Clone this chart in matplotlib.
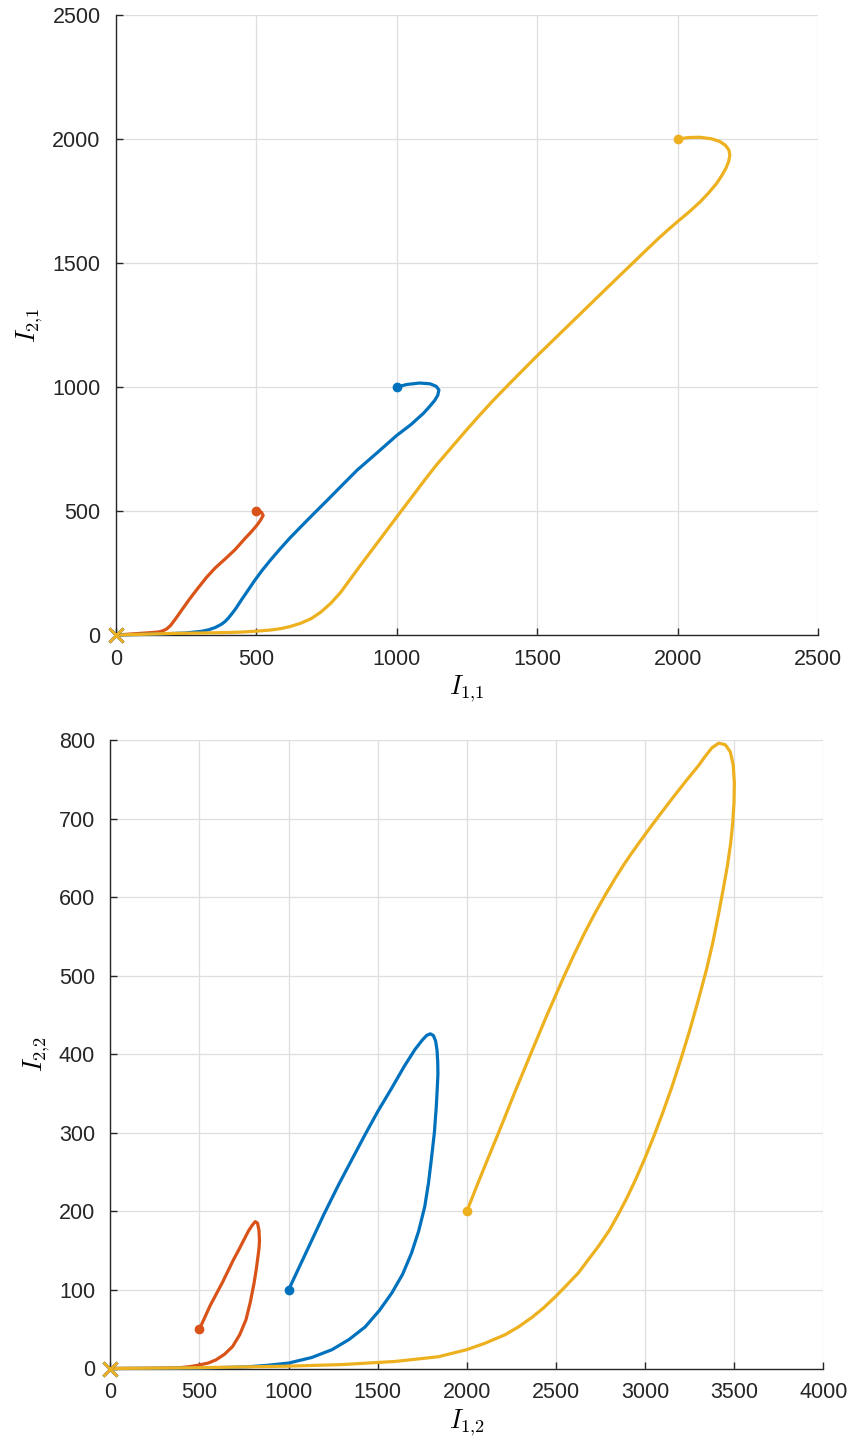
import matplotlib
matplotlib.use("Agg")
import matplotlib.pyplot as plt

# MATLAB default line colours
blue = '#0072BD'
red = '#D95319'
yellow = '#EDB120'

# top panel: I_{1,1} vs I_{2,1}
red1_x = [500, 518, 524, 514, 500, 480, 460, 423, 390, 353, 322, 294, 262, 235, 212, 194, 180, 165, 150,
          129, 80, 0]
red1_y = [500, 495, 482, 462, 440, 414, 390, 343, 308, 270, 232, 192, 145, 102, 65, 38, 24, 16, 12,
          10, 6, 0]

blue1_x = [1000, 1035, 1080, 1118, 1140, 1150, 1146, 1135, 1115, 1094, 1050, 1000, 930, 859, 800, 753,
           705, 657, 620, 585, 550, 520, 494, 470, 447, 425, 410, 400, 388, 375, 353, 330, 306, 247,
           150, 0]
blue1_y = [1000, 1010, 1016, 1013, 1003, 988, 967, 946, 919, 893, 848, 805, 735, 665, 598, 544,
           490, 435, 392, 348, 302, 260, 220, 180, 142, 104, 82, 68, 54, 43, 30, 21, 15, 8,
           4, 0]

yellow1_x = [2000, 2040, 2079, 2120, 2150, 2170, 2183, 2186, 2182, 2172, 2157, 2139, 2110, 2079, 2040,
             2000, 1965, 1929, 1880, 1847, 1780, 1700, 1600, 1500, 1400, 1340, 1290, 1240, 1190, 1140,
             1100, 1060, 1020, 1000, 970, 941, 905, 870, 835, 800, 765, 729, 695, 659, 620, 588, 550,
             506, 450, 400, 300, 188, 100, 0]
yellow1_y = [2000, 2006, 2007, 2001, 1990, 1975, 1955, 1935, 1910, 1882, 1852, 1821, 1782, 1745, 1705,
             1667, 1633, 1596, 1543, 1507, 1434, 1346, 1236, 1126, 1012, 942, 880, 816, 750, 684,
             626, 566, 506, 476, 431, 387, 333, 280, 226, 172, 128, 92, 66, 48, 34, 26, 20,
             16, 12, 10, 8, 6, 3, 0]

# bottom panel: I_{1,2} vs I_{2,2}
red2_x = [500, 530, 560, 595, 630, 660, 690, 723, 750, 775, 795, 813, 826, 834, 837, 835, 831, 820, 806,
          785, 761, 726, 686, 640, 593, 550, 500, 450, 389, 250, 0]
red2_y = [50, 65, 80, 95, 110, 124, 138, 152, 164, 175, 182, 187, 185, 176, 163, 155, 147, 128, 108,
          84, 62, 43, 28, 18, 11, 7, 4.5, 2.5, 1, 0.3, 0]

blue2_x = [1000, 1066, 1132, 1200, 1281, 1360, 1430, 1500, 1579, 1650, 1709, 1750, 1775, 1795, 1812,
           1825, 1833, 1837, 1838, 1835, 1829, 1818, 1801, 1785, 1764, 1730, 1690, 1640, 1579, 1510,
           1430, 1340, 1244, 1130, 1002, 880, 760, 500, 0]
blue2_y = [100, 132, 164, 197, 234, 268, 298, 327, 357, 385, 406, 418, 424, 426, 424,
           417, 405, 390, 375, 360, 334, 300, 266, 236, 206, 175, 147, 120, 96, 74,
           53, 37, 24, 14, 7, 4, 2, 0.5, 0]

yellow2_x = [2000, 2033, 2066, 2120, 2178, 2270, 2365, 2450, 2543, 2600, 2660, 2720, 2780, 2830, 2880,
             2925, 2969, 3040, 3100, 3154, 3230, 3302, 3340, 3375, 3413, 3450, 3478, 3495, 3501, 3499,
             3492, 3480, 3462, 3440, 3412, 3380, 3345, 3300, 3250, 3200, 3150, 3100, 3050, 3000, 2946,
             2900, 2852, 2800, 2740, 2680, 2627, 2560, 2500, 2430, 2365, 2290, 2215, 2100, 2000, 1841,
             1600, 1300, 1000, 500, 0]
yellow2_y = [200, 219, 238, 268, 300, 352, 404, 450, 498, 526, 554, 580, 604, 623, 641,
             656, 670, 692, 710, 726, 748, 768, 780, 790, 796, 794, 785, 768, 745, 720,
             695, 668, 640, 612, 578, 542, 508, 470, 430, 393, 358, 326, 296, 268, 240,
             218, 197, 176, 156, 138, 122, 106, 92, 77, 65, 53, 43, 32, 24, 15,
             9, 5, 3, 1, 0]

top_ticks = [0, 500, 1000, 1500, 2000, 2500]
bottom_xticks = [0, 500, 1000, 1500, 2000, 2500, 3000, 3500, 4000]
bottom_yticks = [0, 100, 200, 300, 400, 500, 600, 700, 800]

plt.rcParams['font.family'] = ['Liberation Sans', 'DejaVu Sans']
plt.rcParams['mathtext.fontset'] = 'cm'

fig = plt.figure(figsize=(8.55, 14.5), dpi=100)
ax1 = fig.add_axes([116 / 855, 1 - 635 / 1450, 702 / 855, 620 / 1450])
ax2 = fig.add_axes([110.3 / 855, 1 - 1368.5 / 1450, 713 / 855, 628.5 / 1450])


def draw_curves(ax, curves):
    for xs, ys, c in curves:
        ax.plot(xs, ys, color=c, lw=2.3, solid_joinstyle='round', solid_capstyle='round',
                clip_on=False, zorder=3)
        ax.plot(xs[0], ys[0], 'o', color=c, ms=6, clip_on=False, zorder=4)
        ax.plot(xs[-1], ys[-1], 'x', color=c, ms=10, mew=2, clip_on=False, zorder=4)


def style_axes(ax, xticks, yticks, xlabel, ylabel):
    ax.set_xlim(xticks[0], xticks[-1])
    ax.set_ylim(yticks[0], yticks[-1])
    ax.set_xticks(xticks)
    ax.set_yticks(yticks)
    ax.grid(True, color='#dedede', lw=0.9)
    ax.set_axisbelow(True)
    for s in ['top', 'right']:
        ax.spines[s].set_visible(False)
    for s in ['left', 'bottom']:
        ax.spines[s].set_color('#262626')
        ax.spines[s].set_linewidth(1.0)
    ax.tick_params(direction='in', length=5, width=1, colors='#262626', labelsize=15.5)
    ax.tick_params(axis='y', pad=11)
    ax.tick_params(axis='x', pad=10)
    ax.set_xlabel(xlabel, fontsize=19, labelpad=3)
    ax.set_ylabel(ylabel, fontsize=19, labelpad=5)


draw_curves(ax1, [(red1_x, red1_y, red), (blue1_x, blue1_y, blue), (yellow1_x, yellow1_y, yellow)])
style_axes(ax1, top_ticks, top_ticks, r'$I_{1{,}1}$', r'$I_{2{,}1}$')

draw_curves(ax2, [(red2_x, red2_y, red), (blue2_x, blue2_y, blue), (yellow2_x, yellow2_y, yellow)])
style_axes(ax2, bottom_xticks, bottom_yticks, r'$I_{1{,}2}$', r'$I_{2{,}2}$')

fig.savefig('out.png', dpi=100)
